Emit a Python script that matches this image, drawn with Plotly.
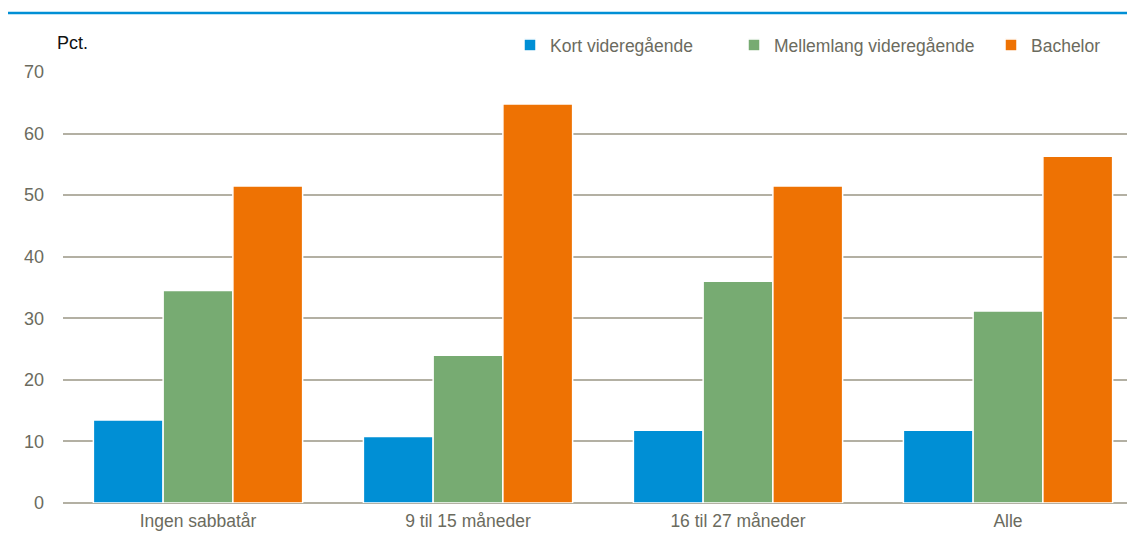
import plotly.graph_objects as go

categories = ["Ingen sabbatår", "9 til 15 måneder", "16 til 27 måneder", "Alle"]
series_names = ["Kort videregående", "Mellemlang videregående", "Bachelor"]
kort = [13.5, 10.8, 11.8, 11.8]
mellemlang = [34.5, 24.0, 36.0, 31.2]
bachelor = [51.5, 64.8, 51.5, 56.3]
colors = ["#008FD5", "#77AB72", "#EE7203"]
y_ticks = [0, 10, 20, 30, 40, 50, 60, 70]

FONT = "Liberation Sans, Arial, sans-serif"
GRAY_TXT = "#6b6b5e"
GRID = "#b3b0a3"

# page body adds an 8px margin; keep figure inside the window to avoid scrollbars
W, H = 1119, 527
L, R, T, B = 55, 0, 64, 32
plot_w = W - L - R
plot_h = H - T - B
px_per_cat = 270.0

legend_ids = ["legend", "legend2", "legend3"]
legend_px = [502, 726, 983]  # left edge of each legend box (figure pixels)

fig = go.Figure()
for name, vals, col, lid in zip(series_names, [kort, mellemlang, bachelor], colors, legend_ids):
    fig.add_trace(go.Bar(
        x=categories, y=vals, name=name, legend=lid,
        marker=dict(color=col, line=dict(color="white", width=1.5)),
    ))

legend_common = dict(
    orientation="h", xanchor="left", yanchor="middle",
    font=dict(family=FONT, size=17.5, color=GRAY_TXT),
    itemwidth=30, bgcolor="rgba(0,0,0,0)", borderwidth=0,
)
layout_legends = {}
for lid, lx in zip(legend_ids, legend_px):
    layout_legends[lid] = dict(legend_common, x=(lx - L) / plot_w, y=1 + (T - 37) / plot_h)

fig.update_layout(
    width=W, height=H,
    margin=dict(l=L, r=R, t=T, b=B, autoexpand=False),
    paper_bgcolor="white", plot_bgcolor="white",
    barmode="group", bargap=0.225, bargroupgap=0.0,
    font=dict(family=FONT, size=17, color=GRAY_TXT),
    showlegend=True,
    xaxis=dict(
        type="category", range=[-0.5, -0.5 + plot_w / px_per_cat],
        showgrid=False, showline=False, ticks="", ticklen=0,
        ticklabelstandoff=5,
        tickfont=dict(family=FONT, size=17.5, color=GRAY_TXT),
        automargin=False,
    ),
    yaxis=dict(
        range=[0, 70], tickvals=y_ticks, showgrid=True, gridcolor=GRID, gridwidth=1.5,
        zeroline=True, zerolinecolor=GRID, zerolinewidth=2,
        showline=False, ticks="", ticklabelstandoff=18,
        tickfont=dict(family=FONT, size=18, color=GRAY_TXT),
        automargin=False,
    ),
    shapes=[dict(type="line", xref="paper", yref="paper",
                 x0=-(L + 5) / plot_w, x1=1.0, y0=1 + (T - 5) / plot_h, y1=1 + (T - 5) / plot_h,
                 line=dict(color="#008FD5", width=2.5))],
    annotations=[dict(text="Pct.", xref="paper", yref="paper", x=-8 / plot_w, y=1 + 29 / plot_h,
                      xanchor="left", yanchor="middle", showarrow=False,
                      font=dict(family=FONT, size=18, color="#111111"))],
    **layout_legends,
)

fig.write_html("out.html")
